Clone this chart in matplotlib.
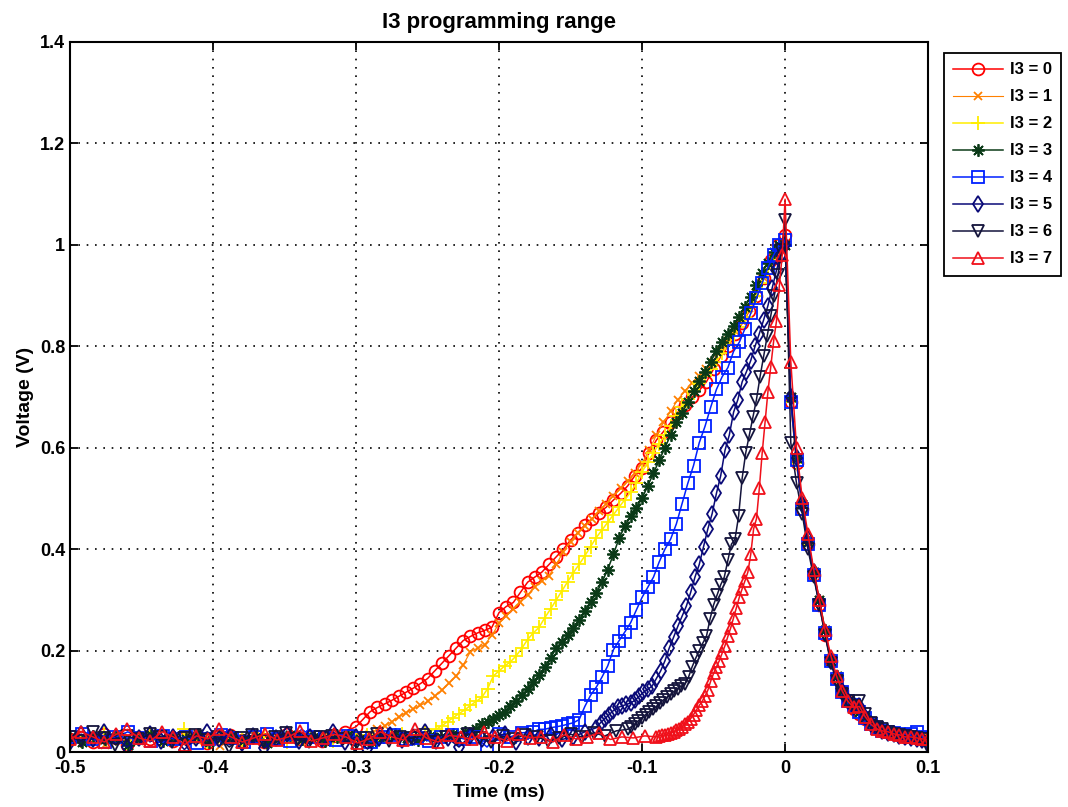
"""I3 programming range: pulse shapes for the eight I3 settings."""

import matplotlib

matplotlib.use("Agg")

import matplotlib.pyplot as plt
import numpy as np
from matplotlib.ticker import FormatStrFormatter

plt.rcParams["font.family"] = ["Liberation Sans Narrow", "Liberation Sans", "DejaVu Sans"]
plt.rcParams["font.weight"] = "bold"

labels = ["I3 = 0", "I3 = 1", "I3 = 2", "I3 = 3", "I3 = 4", "I3 = 5", "I3 = 6", "I3 = 7"]

# where each trace leaves the baseline (ms) and its sample step on the rising edge
rise_start = [-0.300, -0.290, -0.244, -0.216, -0.176, -0.132, -0.110, -0.090]
rise_step = [0.005, 0.005, 0.004, 0.004, 0.004, 0.003, 0.0025, 0.002]
fall_step = 0.004

# baseline noise before the edge (V)
base0 = [0.025, 0.03, 0.02, 0.035, 0.028, 0.015, 0.03, 0.025, 0.033, 0.022, 0.028, 0.03, 0.018,
         0.026, 0.034, 0.024, 0.03, 0.02, 0.028, 0.036, 0.025, 0.03, 0.022, 0.032, 0.04]
base1 = [0.02, 0.028, 0.032, 0.015, 0.025, 0.03, 0.022, 0.035, 0.027, 0.02, 0.031, 0.024, 0.028,
         0.012, 0.03, 0.026, 0.033, 0.022, 0.028, 0.03, 0.019, 0.027, 0.032, 0.025, 0.03, 0.034]
base2 = [0.03, 0.022, 0.027, 0.04, 0.025, 0.018, 0.03, 0.033, 0.024, 0.028, 0.045, 0.026, 0.02,
         0.031, 0.027, 0.023, 0.03, 0.035, 0.025, 0.02, 0.029, 0.032, 0.026, 0.022, 0.03, 0.028,
         0.034, 0.024, 0.03, 0.036, 0.032, 0.04]
base3 = [0.028, 0.02, 0.032, 0.025, 0.03, 0.015, 0.027, 0.033, 0.022, 0.03, 0.026, 0.035, 0.02,
         0.028, 0.031, 0.024, 0.03, 0.018, 0.027, 0.034, 0.025, 0.03, 0.022, 0.029, 0.033, 0.026,
         0.02, 0.03, 0.035, 0.028, 0.024, 0.032, 0.03, 0.036, 0.04]
base4 = [0.03, 0.035, 0.025, 0.02, 0.03, 0.04, 0.028, 0.022, 0.032, 0.026, 0.03, 0.018, 0.025,
         0.033, 0.028, 0.02, 0.03, 0.035, 0.026, 0.022, 0.045, 0.03, 0.028, 0.024, 0.032, 0.027,
         0.02, 0.03, 0.034, 0.025, 0.028, 0.022, 0.03, 0.033, 0.026, 0.03, 0.01, 0.035, 0.03, 0.038]
base5 = [0.02, 0.035, 0.025, 0.04, 0.03, 0.01, 0.028, 0.035, 0.022, 0.03, 0.005, 0.027, 0.04,
         0.025, 0.03, 0.018, 0.032, 0.008, 0.028, 0.035, 0.022, 0.03, 0.026, 0.04, 0.02, 0.03,
         0.006, 0.028, 0.033, 0.024, 0.03, 0.04, 0.022, 0.028, 0.01, 0.032, 0.026, 0.03, 0.036,
         0.02, 0.03, 0.028, 0.034, 0.025, 0.03, 0.04]
base6 = [0.03, 0.022, 0.04, 0.028, 0.015, 0.032, 0.025, 0.035, 0.03, 0.02, 0.028, 0.034, 0.024,
         0.03, 0.01, 0.027, 0.033, 0.022, 0.03, 0.038, 0.025, 0.02, 0.03, 0.032, 0.026, 0.012,
         0.028, 0.035, 0.022, 0.03, 0.027, 0.033, 0.02, 0.03, 0.025, 0.036, 0.028, 0.02, 0.031,
         0.026, 0.034, 0.03, 0.022, 0.028, 0.035, 0.03, 0.038, 0.032, 0.042]
base7 = [0.025, 0.04, 0.03, 0.02, 0.035, 0.045, 0.028, 0.022, 0.04, 0.03, 0.015, 0.032, 0.026,
         0.045, 0.03, 0.02, 0.028, 0.036, 0.024, 0.03, 0.042, 0.022, 0.028, 0.035, 0.03, 0.018,
         0.026, 0.04, 0.03, 0.024, 0.045, 0.028, 0.02, 0.033, 0.03, 0.025, 0.04, 0.03, 0.022,
         0.035, 0.028, 0.03, 0.02, 0.034, 0.026, 0.03, 0.038, 0.025, 0.03, 0.028, 0.032]

# rising edge (V), from rise_start up to just before t = 0
rise0 = [0.05, 0.065, 0.08, 0.088, 0.095, 0.102, 0.11, 0.118, 0.126, 0.135, 0.145, 0.16, 0.175,
         0.19, 0.205, 0.22, 0.228, 0.235, 0.24, 0.246, 0.275, 0.287, 0.295, 0.315, 0.335, 0.345,
         0.355, 0.37, 0.385, 0.40, 0.418, 0.432, 0.448, 0.46, 0.472, 0.483, 0.497, 0.51, 0.525,
         0.545, 0.56, 0.59, 0.615, 0.632, 0.65, 0.67, 0.685, 0.70, 0.713, 0.73, 0.755, 0.78, 0.80,
         0.825, 0.845, 0.87, 0.90, 0.935, 0.97, 1.0]
rise1 = [0.035, 0.045, 0.052, 0.06, 0.07, 0.078, 0.085, 0.092, 0.10, 0.11, 0.122, 0.136, 0.15,
         0.172, 0.198, 0.205, 0.212, 0.23, 0.254, 0.268, 0.282, 0.295, 0.31, 0.326, 0.338, 0.348,
         0.37, 0.395, 0.415, 0.432, 0.446, 0.46, 0.475, 0.49, 0.505, 0.52, 0.535, 0.55, 0.57,
         0.595, 0.625, 0.65, 0.672, 0.695, 0.712, 0.728, 0.742, 0.755, 0.77, 0.79, 0.81, 0.83,
         0.85, 0.875, 0.905, 0.935, 0.965, 0.99]
rise2 = [0.045, 0.052, 0.06, 0.068, 0.076, 0.083, 0.092, 0.10, 0.108, 0.125, 0.15, 0.16, 0.17,
         0.178, 0.19, 0.205, 0.222, 0.235, 0.246, 0.265, 0.282, 0.30, 0.318, 0.336, 0.354, 0.37,
         0.387, 0.405, 0.423, 0.438, 0.453, 0.468, 0.483, 0.498, 0.512, 0.53, 0.552, 0.572, 0.59,
         0.608, 0.625, 0.642, 0.662, 0.68, 0.697, 0.712, 0.728, 0.742, 0.756, 0.77, 0.786, 0.802,
         0.82, 0.838, 0.858, 0.878, 0.90, 0.925, 0.952, 0.975, 0.995]
rise3 = [0.045, 0.055, 0.06, 0.066, 0.073, 0.08, 0.09, 0.10, 0.112, 0.125, 0.138, 0.152, 0.168,
         0.185, 0.205, 0.218, 0.23, 0.245, 0.26, 0.278, 0.296, 0.313, 0.335, 0.36, 0.39, 0.422,
         0.445, 0.465, 0.482, 0.50, 0.525, 0.55, 0.575, 0.60, 0.625, 0.65, 0.668, 0.69, 0.712,
         0.732, 0.75, 0.77, 0.79, 0.808, 0.825, 0.84, 0.858, 0.878, 0.898, 0.92, 0.945, 0.965,
         0.985, 1.0]
rise4 = [0.04, 0.045, 0.045, 0.048, 0.05, 0.052, 0.055, 0.058, 0.064, 0.09, 0.112, 0.128, 0.148,
         0.17, 0.202, 0.22, 0.237, 0.255, 0.28, 0.305, 0.325, 0.345, 0.375, 0.40, 0.42, 0.45,
         0.49, 0.53, 0.565, 0.61, 0.642, 0.68, 0.715, 0.74, 0.758, 0.79, 0.808, 0.835, 0.865,
         0.895, 0.925, 0.955, 0.98, 1.0]
rise5 = [0.048, 0.058, 0.066, 0.074, 0.082, 0.088, 0.091, 0.094, 0.097, 0.102, 0.11, 0.118, 0.124,
         0.13, 0.145, 0.16, 0.18, 0.205, 0.226, 0.248, 0.268, 0.288, 0.315, 0.345, 0.37, 0.405,
         0.44, 0.47, 0.51, 0.545, 0.595, 0.625, 0.67, 0.695, 0.73, 0.75, 0.772, 0.80, 0.825,
         0.852, 0.88, 0.915, 0.95, 0.98]
rise6 = [0.045, 0.05, 0.055, 0.062, 0.068, 0.074, 0.08, 0.085, 0.09, 0.097, 0.103, 0.108, 0.114,
         0.12, 0.125, 0.13, 0.135, 0.148, 0.168, 0.185, 0.20, 0.215, 0.228, 0.262, 0.29, 0.31,
         0.33, 0.345, 0.378, 0.41, 0.42, 0.465, 0.54, 0.59, 0.625, 0.66, 0.695, 0.74, 0.78, 0.82,
         0.86, 0.90, 0.94, 0.99]
rise7 = [0.03, 0.032, 0.033, 0.034, 0.036, 0.038, 0.04, 0.043, 0.046, 0.05, 0.055, 0.06, 0.066,
         0.074, 0.083, 0.092, 0.10, 0.11, 0.122, 0.14, 0.155, 0.168, 0.18, 0.195, 0.21, 0.228,
         0.245, 0.265, 0.285, 0.305, 0.322, 0.338, 0.355, 0.39, 0.44, 0.46, 0.52, 0.59, 0.65,
         0.71, 0.76, 0.81, 0.85, 0.92, 0.98]

# peak at t = 0 and the common decay out to 0.1 ms (V)
fall0 = [1.02, 0.69, 0.57, 0.48, 0.41, 0.35, 0.29, 0.23, 0.18, 0.145, 0.12, 0.10, 0.085, 0.075,
         0.065, 0.055, 0.048, 0.042, 0.04, 0.036, 0.034, 0.03, 0.032, 0.028, 0.03, 0.026]
fall1 = [1.0, 0.70, 0.58, 0.49, 0.42, 0.355, 0.30, 0.24, 0.185, 0.15, 0.12, 0.105, 0.09, 0.078,
         0.068, 0.058, 0.05, 0.045, 0.04, 0.038, 0.033, 0.032, 0.03, 0.03, 0.027, 0.025]
fall2 = [1.0, 0.69, 0.57, 0.485, 0.41, 0.35, 0.295, 0.235, 0.18, 0.145, 0.118, 0.10, 0.088, 0.076,
         0.064, 0.056, 0.05, 0.044, 0.04, 0.037, 0.035, 0.033, 0.03, 0.028, 0.025, 0.02]
fall3 = [1.0, 0.70, 0.58, 0.49, 0.415, 0.355, 0.30, 0.24, 0.18, 0.15, 0.12, 0.10, 0.09, 0.08,
         0.07, 0.058, 0.05, 0.044, 0.04, 0.036, 0.034, 0.03, 0.03, 0.028, 0.026, 0.024]
fall4 = [1.01, 0.69, 0.575, 0.48, 0.41, 0.35, 0.29, 0.235, 0.18, 0.145, 0.118, 0.10, 0.092, 0.08,
         0.068, 0.055, 0.048, 0.042, 0.04, 0.038, 0.036, 0.034, 0.035, 0.04, 0.03, 0.028]
fall5 = [1.0, 0.70, 0.58, 0.49, 0.42, 0.355, 0.295, 0.235, 0.18, 0.145, 0.12, 0.10, 0.088, 0.09,
         0.07, 0.056, 0.048, 0.042, 0.038, 0.035, 0.032, 0.03, 0.028, 0.026, 0.024, 0.02]
fall6 = [1.05, 0.61, 0.53, 0.47, 0.40, 0.345, 0.29, 0.23, 0.175, 0.14, 0.115, 0.10, 0.09, 0.10,
         0.075, 0.058, 0.05, 0.045, 0.04, 0.036, 0.034, 0.032, 0.03, 0.028, 0.026, 0.01]
fall7 = [1.09, 0.77, 0.60, 0.50, 0.43, 0.36, 0.30, 0.24, 0.19, 0.15, 0.12, 0.10, 0.088, 0.09,
         0.07, 0.055, 0.046, 0.042, 0.04, 0.036, 0.034, 0.03, 0.03, 0.028, 0.026, 0.025]

x_ticks = [-0.5, -0.4, -0.3, -0.2, -0.1, 0, 0.1]
y_ticks = [0, 0.2, 0.4, 0.6, 0.8, 1, 1.2, 1.4]

bases = [base0, base1, base2, base3, base4, base5, base6, base7]
rises = [rise0, rise1, rise2, rise3, rise4, rise5, rise6, rise7]
falls = [fall0, fall1, fall2, fall3, fall4, fall5, fall6, fall7]

styles = [
    dict(color="#ff0000", marker="o"),
    dict(color="#ff8000", marker="x", markersize=5.5, linewidth=0.8),
    dict(color="#ffee00", marker="+", markersize=10),
    dict(color="#0b3a18", marker=(8, 2, 0), markersize=9),
    dict(color="#0020ff", marker="s"),
    dict(color="#0a0a78", marker="d"),
    dict(color="#14143c", marker="v"),
    dict(color="#f0101a", marker="^"),
]


def trace(base, rise, fall, start, step):
    t_base = np.linspace(-0.5, start, len(base), endpoint=False)
    t_rise = start + step * np.arange(len(rise))
    t_fall = fall_step * np.arange(len(fall))
    t = np.concatenate([t_base, t_rise, t_fall])
    v = np.concatenate([base, rise, fall])
    return t, v


fig = plt.figure(figsize=(10.68, 8.07), dpi=100)
ax = fig.add_axes([0.0655, 0.068, 0.8035, 0.88])

for i, label in enumerate(labels):
    t, v = trace(bases[i], rises[i], falls[i], rise_start[i], rise_step[i])
    style = dict(markersize=8.5, linewidth=1.1, markerfacecolor="none", markeredgewidth=1.3)
    style.update(styles[i])
    ax.plot(t, v, label=label, **style)

ax.set_xlim(-0.5, 0.1)
ax.set_ylim(0, 1.4)
ax.set_xticks(x_ticks)
ax.set_yticks(y_ticks)
ax.xaxis.set_major_formatter(FormatStrFormatter("%g"))
ax.yaxis.set_major_formatter(FormatStrFormatter("%g"))
ax.tick_params(direction="in", top=True, right=True, length=6, width=1.3, labelsize=13)
ax.tick_params(axis="x", pad=6)
for tick in ax.get_xticklabels() + ax.get_yticklabels():
    tick.set_fontweight("bold")
ax.grid(True, color="black", linestyle=(0, (1, 4)), linewidth=1.2)
for spine in ax.spines.values():
    spine.set_linewidth(1.5)

ax.set_title("I3 programming range", fontsize=16, fontweight="bold", pad=10)
ax.set_xlabel("Time (ms)", fontsize=14, fontweight="bold", labelpad=5)
ax.set_ylabel("Voltage (V)", fontsize=14, fontweight="bold", labelpad=4)

legend = ax.legend(
    loc="upper left",
    bbox_to_anchor=(0.884, 0.934),
    bbox_transform=fig.transFigure,
    borderaxespad=0,
    fontsize=12,
    handlelength=3.0,
    labelspacing=0.72,
    borderpad=0.55,
    handletextpad=0.4,
    fancybox=False,
    framealpha=1,
    edgecolor="black",
)
legend.get_frame().set_linewidth(1.3)

fig.savefig("out.png", dpi=100, facecolor="white")
